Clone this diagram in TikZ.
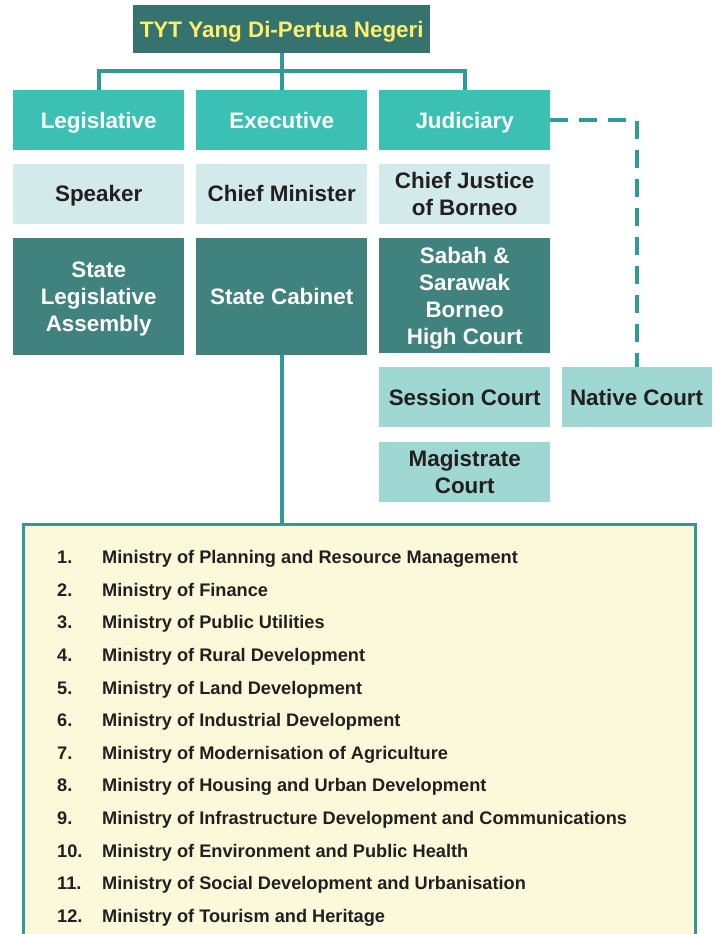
\documentclass[tikz,border=0pt]{standalone}
\usepackage{fontspec}
\setmainfont{Liberation Sans}
\usetikzlibrary{positioning}

\definecolor{headfill}{HTML}{36736F}
\definecolor{headtext}{HTML}{FFEF6B}
\definecolor{branchfill}{HTML}{3DC0B4}
\definecolor{officefill}{HTML}{D3EAEB}
\definecolor{bodyfill}{HTML}{40827E}
\definecolor{courtfill}{HTML}{9FD8D2}
\definecolor{linkcol}{HTML}{2F9A98}
\definecolor{listfill}{HTML}{FCF8DA}
\definecolor{darktext}{HTML}{231F20}

\begin{document}
\begin{tikzpicture}[x=1pt,y=-1pt,
  box/.style={inner sep=0pt, minimum width=171pt, minimum height=60pt,
    text depth=0pt, align=center, font=\bfseries\fontsize{22.4}{27}\selectfont},
  branch/.style={box, fill=branchfill, text=white},
  office/.style={box, fill=officefill, text=darktext},
  body/.style={box, fill=bodyfill, text=white},
  court/.style={box, fill=courtfill, text=darktext},
  link/.style={draw=linkcol, line width=4pt},
  item/.style={anchor=base west, inner sep=0pt, text=darktext,
    font=\bfseries\fontsize{18.2}{20}\selectfont}]
  \useasboundingbox (0,0) rectangle (719,934);
  \clip (0,0) rectangle (719,934);

  % head of state
  \node[fill=headfill, text=headtext, inner sep=0pt, minimum width=297pt,
    minimum height=48pt, text depth=0pt, font=\bfseries\fontsize{22.4}{24}\selectfont,
    anchor=north west] (tyt) at (133,5) {TYT Yang Di-Pertua Negeri};

  % three branches
  \node[branch, anchor=north west] (leg) at (13,90) {Legislative};
  \node[branch, anchor=north west] (exe) at (196,90) {Executive};
  \node[branch, anchor=north west] (jud) at (379,90) {Judiciary};

  \node[office, below=13pt of leg] (spk) {Speaker};
  \node[office, below=13pt of exe] (cm) {Chief Minister};
  \node[office, below=13pt of jud] (cj) {Chief Justice\\of Borneo};

  \node[body, minimum height=117pt, below=14pt of spk] (dun) {State\\Legislative\\Assembly};
  \node[body, minimum height=117pt, below=14pt of cm] (cab) {State Cabinet};
  \node[body, minimum height=115pt, below=14pt of cj] (hc) {Sabah \&\\Sarawak\\Borneo\\High Court};

  \node[court, below=14pt of hc] (ses) {Session Court};
  \node[court, minimum width=150pt, right=11pt of ses] (nat) {Native Court};
  \node[court, below=14pt of ses] (mag) {Magistrate\\Court};

  % ministries
  \node[draw=linkcol, line width=3pt, fill=listfill, inner sep=0pt,
    minimum width=672pt, minimum height=430pt, anchor=north west] (min) at (22,523) {};
  \foreach \n/\t [count=\i] in {1./Ministry of Planning and Resource Management,
      2./Ministry of Finance,
      3./Ministry of Public Utilities,
      4./Ministry of Rural Development,
      5./Ministry of Land Development,
      6./Ministry of Industrial Development,
      7./Ministry of Modernisation of Agriculture,
      8./Ministry of Housing and Urban Development,
      9./Ministry of Infrastructure Development and Communications,
      10./Ministry of Environment and Public Health,
      11./Ministry of Social Development and Urbanisation,
      12./Ministry of Tourism and Heritage} {
    \node[item] (num\i) at (57,{563.5+(\i-1)*32.64}) {\n};
    \node[item] (mname\i) at (102,{563.5+(\i-1)*32.64}) {\t};
  }

  % connectors
  \draw[link] (tyt.south) -- ++(0,18) -| (leg.north);
  \draw[link] (tyt.south) -- ++(0,18) -| (jud.north);
  \draw[link] (tyt.south) -- (exe.north);
  \draw[link] (cab.south) -- (cab.south |- min.north);
  \draw[link, dash pattern=on 18pt off 11pt] (jud.east) -| (nat.north);
\end{tikzpicture}
\end{document}
